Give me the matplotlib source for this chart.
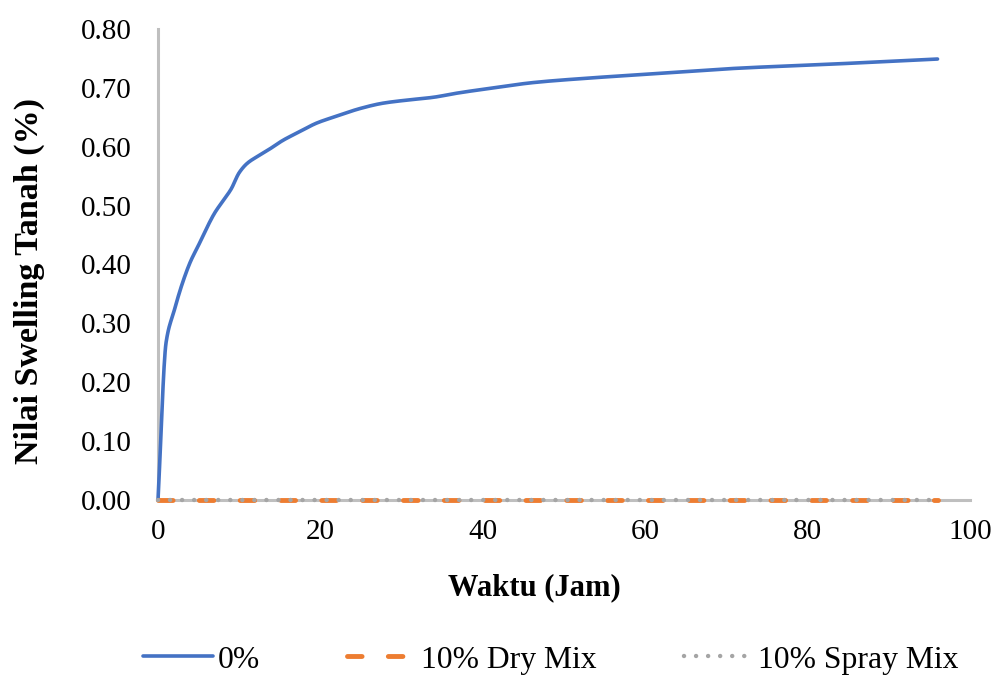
import matplotlib
matplotlib.use("Agg")
import numpy as np
import matplotlib.pyplot as plt
from matplotlib.ticker import FormatStrFormatter

plt.rcParams['font.family'] = ['Liberation Serif', 'DejaVu Serif']

# Data
waktu = [0, 1, 2, 3, 4, 5, 6, 7, 8, 9, 10, 11, 12.3, 13.4, 15.4,
         17.5, 19.5, 22, 24.9, 27.7, 30.5, 33.9, 36.8, 41.3, 46.2, 52.4, 60, 70.9, 84, 96]
swell_0 = [0.0, 0.268, 0.322, 0.368, 0.405, 0.433, 0.462, 0.488, 0.508,
           0.528, 0.556, 0.572, 0.584, 0.593, 0.611, 0.626, 0.640, 0.652, 0.665,
           0.674, 0.679, 0.684, 0.691, 0.700, 0.709, 0.716, 0.723, 0.733, 0.741, 0.749]
swell_dry = [0.0] * len(waktu)
swell_spray = [0.0] * len(waktu)

labels = ['0%', '10% Dry Mix', '10% Spray Mix']
x_ticks = [0, 20, 40, 60, 80, 100]
y_ticks = [0.0, 0.1, 0.2, 0.3, 0.4, 0.5, 0.6, 0.7, 0.8]


def smooth_line(xs, ys, n=16):
    """Monotone cubic (Fritsch-Carlson) rendering of a smoothed line through the points."""
    x = np.asarray(xs, float)
    y = np.asarray(ys, float)
    h = np.diff(x)
    d = np.diff(y) / h
    m = np.zeros_like(y)
    m[0], m[-1] = d[0], d[-1]
    for k in range(1, len(x) - 1):
        if d[k - 1] * d[k] <= 0:
            m[k] = 0.0
        else:
            w1 = 2 * h[k] + h[k - 1]
            w2 = h[k] + 2 * h[k - 1]
            m[k] = (w1 + w2) / (w1 / d[k - 1] + w2 / d[k])
    ox, oy = [], []
    t = np.linspace(0, 1, n, endpoint=False)
    for k in range(len(x) - 1):
        h00 = 2 * t ** 3 - 3 * t ** 2 + 1
        h10 = t ** 3 - 2 * t ** 2 + t
        h01 = -2 * t ** 3 + 3 * t ** 2
        h11 = t ** 3 - t ** 2
        ox.extend(x[k] + t * h[k])
        oy.extend(h00 * y[k] + h10 * h[k] * m[k] + h01 * y[k + 1] + h11 * h[k] * m[k + 1])
    ox.append(x[-1])
    oy.append(y[-1])
    return ox, oy


W, H = 995, 678
fig = plt.figure(figsize=(W / 100, H / 100), dpi=100)
ax = fig.add_axes([158 / W, (H - 500) / H, (970 - 158) / W, (500 - 29) / H])

sx, sy = smooth_line(waktu, swell_0)
ax.plot(sx, sy, color='#4472C4', lw=2.6, solid_capstyle='round',
        solid_joinstyle='round', label=labels[0], zorder=3, clip_on=False)
ax.plot(waktu, swell_dry, color='#ED7D31', lw=3.5, linestyle=(0, (3.0, 5.4)),
        dash_capstyle='round', label=labels[1], zorder=4, clip_on=False)
ax.plot(waktu, swell_spray, color='#A5A5A5', lw=3.2, linestyle=(0, (0.01, 2.7)),
        dash_capstyle='round', label=labels[2], zorder=5, clip_on=False)

ax.set_xlim(0, 100)
ax.set_ylim(0, 0.8)
ax.set_xticks(x_ticks)
ax.set_yticks(y_ticks)
ax.yaxis.set_major_formatter(FormatStrFormatter('%.2f'))
ax.tick_params(axis='both', length=0, labelsize=21)
ax.tick_params(axis='y', pad=19)
ax.tick_params(axis='x', pad=14)

for s in ['top', 'right']:
    ax.spines[s].set_visible(False)
for s in ['left', 'bottom']:
    ax.spines[s].set_color('#BFBFBF')
    ax.spines[s].set_linewidth(2.2)

fig.text(534 / W, 1 - 588 / H, 'Waktu (Jam)', ha='center', va='center',
         fontsize=22, fontweight='bold')
fig.text(29 / W, 1 - 281 / H, 'Nilai Swelling Tanah (%)', ha='center', va='center',
         rotation=90, fontsize=24.5, fontweight='bold')

leg = fig.legend(loc='center', bbox_to_anchor=(551 / W, 1 - 660 / H), ncol=3,
                 frameon=False, fontsize=22.8, handlelength=2.2, handletextpad=0.15,
                 columnspacing=2.75, borderpad=0)

fig.savefig('out.png', dpi=100)
